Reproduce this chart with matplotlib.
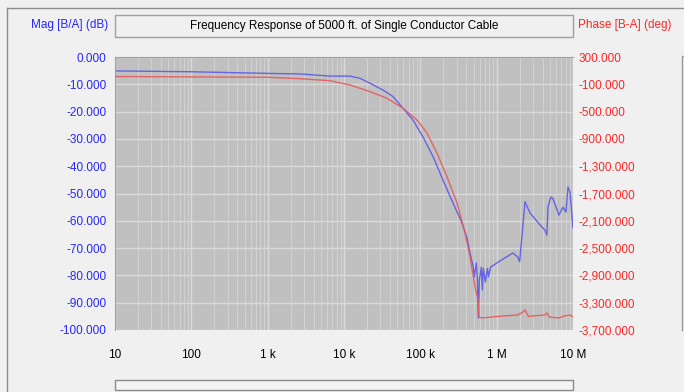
import matplotlib
matplotlib.use("Agg")
import matplotlib.pyplot as plt
from matplotlib.lines import Line2D
from matplotlib.patches import Rectangle
from matplotlib.ticker import FixedLocator, FuncFormatter, NullFormatter

plt.rcParams['font.family'] = ['Liberation Sans Narrow', 'Liberation Sans', 'DejaVu Sans']

# magnitude trace (blue)
mag_freq = [10, 100, 1000, 2650, 6560, 12000, 16200, 21900, 32400, 43900, 59300,
            80200, 108000, 147000, 198000, 268000, 352000, 409000, 448000,
            494000, 509000, 541000, 558000, 575000, 593000, 630000, 649000,
            668000, 711000, 756000, 780000, 830000, 1000000, 1350000, 1630000,
            1880000, 2000000, 2350000, 2730000, 3700000, 4280000, 4550000,
            4700000, 5130000, 5450000, 6550000, 7390000, 8090000, 8600000,
            9130000, 10000000]
mag_db = [-5.1, -5.4, -6.0, -6.2, -7.0, -7.0, -7.8, -9.6, -12.1, -14.5, -18.8,
          -23.1, -29.2, -36.5, -45.1, -53.5, -60.8, -66.3, -71.8,
          -77.0, -80.5, -75.5, -80.5, -95.6, -81.7, -77.0, -85.3,
          -77.4, -82.4, -77.4, -80.5, -77.0, -75.5, -73.2, -71.8,
          -73.2, -75.0, -53.0, -57.1, -61.5, -63.4, -65.2,
          -55.0, -51.3, -51.8, -57.9, -55.0, -56.8, -47.6,
          -49.5, -62.6]

# phase trace (red)
ph_freq = [10, 1000, 2650, 6560, 12000, 21900, 36600, 59300, 90400, 122000,
           165000, 224000, 303000, 385000, 448000, 521000, 570000, 588000,
           643000, 1000000, 1880000, 2200000, 2350000, 2600000, 4280000,
           4550000, 4900000, 6550000, 7700000, 9130000, 10000000]
ph_deg = [14, 3, -18, -47, -110, -208, -305, -451, -623, -813,
          -1106, -1458, -1839, -2278, -2630, -3070, -3260, -3509,
          -3524, -3502, -3480, -3440, -3406, -3500, -3480,
          -3450, -3510, -3524, -3494, -3480, -3510]

mag_ticks = list(range(0, -101, -10))
ph_ticks = list(range(300, -3701, -400))
x_ticks = [10, 100, 1e3, 1e4, 1e5, 1e6, 1e7]
x_labels = ['10', '100', '1 k', '10 k', '100 k', '1 M', '10 M']

W, H = 684, 392
fig = plt.figure(figsize=(W / 100, H / 100), dpi=100, facecolor='#f0f0f0')

def fx(px):
    return px / W

def fy(py):
    return 1 - py / H

ax = fig.add_axes([fx(115), fy(330), fx(573) - fx(115), fy(57) - fy(330)])
ax.set_facecolor('#c0c0c0')
ax.set_xscale('log')
ax.set_xlim(10, 1e7)
ax.set_ylim(-100, 0)

ax.xaxis.set_major_locator(FixedLocator(x_ticks))
ax.set_xticklabels(x_labels)
minors = [m * 10 ** e for e in range(1, 7) for m in range(2, 10)]
ax.xaxis.set_minor_locator(FixedLocator(minors))
ax.xaxis.set_minor_formatter(NullFormatter())
ax.set_yticks(mag_ticks)
ax.yaxis.set_major_formatter(FuncFormatter(lambda v, p: '{:,.3f}'.format(v)))

ax.grid(True, which='major', axis='both', color='#dadada', lw=1.0)
ax.grid(True, which='minor', axis='x', color='#d2d2d2', lw=0.7)
ax.set_axisbelow(True)

fs = 8.5
ax.tick_params(axis='both', which='both', length=0)
ax.tick_params(axis='x', pad=14, labelsize=fs, colors='black')
ax.tick_params(axis='y', pad=6, labelsize=fs, labelcolor='#2626ff')

ax.plot(mag_freq, mag_db, color='#5a5ae6', lw=1.0, alpha=0.9)

ax2 = ax.twinx()
ax2.set_ylim(-3700, 300)
ax2.set_yticks(ph_ticks)
ax2.yaxis.set_major_formatter(FuncFormatter(lambda v, p: '{:,.3f}'.format(v)))
ax2.tick_params(axis='y', length=0, pad=4, labelsize=fs, labelcolor='#ff2626')
ax2.plot(ph_freq, ph_deg, color='#e65a5a', lw=1.0, alpha=0.9)

for a in (ax, ax2):
    for s in a.spines.values():
        s.set_visible(False)
ax.spines['top'].set_visible(True)
ax.spines['top'].set_color('#a0a0a0')
ax.spines['left'].set_visible(True)
ax.spines['left'].set_color('#a0a0a0')

# axis titles
fig.text(fx(108), fy(25), 'Mag [B/A] (dB)', color='#2626ff', fontsize=fs,
         ha='right', va='center')
fig.text(fx(578), fy(25), 'Phase [B-A] (deg)', color='#ff2626', fontsize=fs,
         ha='left', va='center')

# title box
fig.patches.append(Rectangle((fx(115), fy(37)), fx(573) - fx(115), fy(15) - fy(37),
                             transform=fig.transFigure, facecolor='#f0f0f0',
                             edgecolor='#a0a0a0', lw=1))
fig.text((fx(115) + fx(573)) / 2, fy(25.5),
         'Frequency Response of 5000 ft. of Single Conductor Cable',
         fontsize=fs, ha='center', va='center', color='black')

# scroll bar
fig.patches.append(Rectangle((fx(115), fy(390)), fx(573) - fx(115), fy(380) - fy(390),
                             transform=fig.transFigure, facecolor='#f4f4f4',
                             edgecolor='#8a8a8a', lw=1))

# window frame
fig.lines.append(Line2D([fx(7), fx(7)], [0, fy(8)], transform=fig.transFigure,
                        color='#8c8c8c', lw=1))
fig.lines.append(Line2D([fx(7), 1], [fy(8), fy(8)], transform=fig.transFigure,
                        color='#8c8c8c', lw=1))
fig.lines.append(Line2D([fx(681.5), fx(681.5), 1], [fy(330), fy(56), fy(56)],
                        transform=fig.transFigure, color='#9a9a9a', lw=1))

fig.savefig('out.png', dpi=100, facecolor=fig.get_facecolor())
